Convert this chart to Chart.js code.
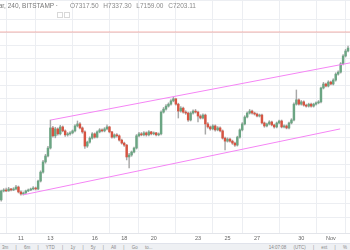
<!DOCTYPE html>
<html>
<head>
<meta charset="utf-8">
<script src="https://cdn.jsdelivr.net/npm/chart.js@4.4.1/dist/chart.umd.min.js"></script>
<style>
  html, body { margin: 0; padding: 0; background: #fff; }
  #wrap { position: relative; width: 350px; height: 250px; overflow: hidden; font-family: "Liberation Sans", Arial, sans-serif; }
  #chart { position: absolute; left: 0; top: 0; }
  #title { position: absolute; right: 292px; top: 2px; font-size: 6.5px; color: #777; white-space: nowrap; }
  #icons { position: absolute; left: 57px; top: 4px; }
  #icons span { display: inline-block; width: 4px; height: 4px; border: 1px solid #d8d8d8; margin-right: 1px; }
  #ohlc { position: absolute; left: 70px; top: 2px; font-size: 6.5px; color: #8a8a8a; white-space: nowrap; word-spacing: 3px; }
  #bar { position: absolute; left: 0; top: 243px; width: 350px; height: 7px; background: #eef0f3; border-top: 1px solid #e0e3eb; font-size: 4.5px; color: #888; line-height: 7px; }
  #bar .l { position: absolute; left: 2px; top: 0; white-space: nowrap; word-spacing: 6px; }
  #bar .r { position: absolute; right: 3px; top: 0; white-space: nowrap; word-spacing: 6px; }
</style>
</head>
<body>
<div id="wrap">
  <canvas id="chart" width="350" height="243"></canvas>
  <div id="title">Bitcoin / U.S. Dollar, 240, BITSTAMP ·</div>
  <div id="icons"><span></span><span></span></div>
  <div id="ohlc">O7317.50 H7337.30 L7159.00 C7203.11</div>
  <div id="bar">
    <div class="l">3m | 6m | YTD | 1y | 5y | All | Go to...</div>
    <div class="r">14:07:08 (UTC) | ext | %</div>
  </div>
</div>
<script>
// 4h candles, index counted from Oct 9 00:00 (6 bars per day)
var firstCandle = 4;

var opens = [
  4660,4795,4810,4795,4825,4810,4825,4855,4780,4750,
  4765,4795,4810,4825,4840,4825,4945,5080,5235,5325,
  5445,5750,5630,5735,5660,5765,5705,5645,5660,5675,
  5705,5780,5810,5750,5690,5475,5535,5595,5660,5610,
  5690,5720,5705,5735,5765,5690,5610,5645,5630,5565,
  5520,5490,5310,5340,5385,5445,5630,5660,5645,5675,
  5645,5690,5660,5675,5645,5660,5990,6035,6080,6110,
  6160,6190,6110,6005,6050,5990,5975,5870,5975,6005,
  5990,5930,5900,5945,5810,5765,5735,5780,5720,5750,
  5705,5595,5550,5580,5550,5520,5490,5610,5720,5810,
  5915,5975,6005,5975,5960,5930,5945,5825,5780,5810,
  5840,5795,5765,5825,5855,5765,5780,5750,5825,5870,
  6110,6175,6110,6145,6095,6080,6110,6080,6110,6130,
  6145,6355,6415,6385,6445,6415,6475,6565,6595,6720,
  6840,6915
];
var highs = [
  4810,4830,4840,4850,4835,4845,4880,4870,4795,4780,
  4810,4825,4840,4860,4855,4960,5100,5260,5350,5470,
  5870,5775,5760,5750,5790,5780,5720,5680,5695,5720,
  5800,5855,5830,5765,5705,5550,5615,5680,5675,5705,
  5740,5735,5755,5795,5775,5700,5660,5665,5645,5580,
  5535,5500,5365,5400,5460,5650,5685,5680,5695,5690,
  5710,5700,5690,5685,5675,6010,6060,6105,6130,6180,
  6215,6200,6125,6075,6065,6010,5990,5995,6025,6030,
  6005,5950,5965,5960,5830,5780,5800,5795,5770,5765,
  5720,5610,5600,5595,5565,5535,5625,5735,5830,5935,
  5995,6030,6020,5990,5975,5960,5960,5840,5825,5860,
  5855,5810,5840,5870,5870,5795,5795,5840,5890,6130,
  6325,6190,6165,6160,6110,6125,6125,6125,6145,6165,
  6370,6440,6430,6465,6460,6495,6585,6615,6740,6860,
  6940,6990
];
var lows = [
  4640,4780,4785,4790,4795,4800,4815,4765,4730,4735,
  4755,4785,4800,4815,4810,4815,4930,5065,5215,5310,
  5430,5610,5600,5640,5645,5690,5620,5625,5640,5660,
  5690,5765,5735,5670,5440,5455,5520,5580,5595,5600,
  5675,5690,5690,5720,5675,5595,5595,5610,5550,5505,
  5470,5265,5145,5320,5370,5430,5615,5630,5630,5625,
  5630,5645,5645,5630,5630,5645,5975,6020,6065,6095,
  6145,6095,5900,5990,5975,5955,5850,5855,5960,5975,
  5840,5885,5885,5655,5745,5715,5720,5700,5705,5690,
  5580,5415,5535,5535,5500,5470,5475,5595,5705,5795,
  5900,5960,5960,5945,5915,5915,5810,5760,5765,5795,
  5780,5745,5750,5810,5750,5750,5735,5735,5810,5855,
  6095,6095,6095,6080,6065,6065,6065,6065,6095,6115,
  6130,6340,6370,6370,6400,6400,6460,6550,6580,6705,
  6825,6900
];
var closes = [
  4795,4810,4795,4825,4810,4825,4855,4780,4750,4765,
  4795,4810,4825,4840,4825,4945,5080,5235,5325,5445,
  5750,5630,5735,5660,5765,5705,5645,5660,5675,5705,
  5780,5810,5750,5690,5475,5535,5595,5660,5610,5690,
  5720,5705,5735,5765,5690,5610,5645,5630,5565,5520,
  5490,5310,5340,5385,5445,5630,5660,5645,5675,5645,
  5690,5660,5675,5645,5660,5990,6035,6080,6110,6160,
  6190,6110,6005,6050,5990,5975,5870,5975,6005,5990,
  5930,5900,5945,5810,5765,5735,5780,5720,5750,5705,
  5595,5550,5580,5550,5520,5490,5610,5720,5810,5915,
  5975,6005,5975,5960,5930,5945,5825,5780,5810,5840,
  5795,5765,5825,5855,5765,5780,5750,5825,5870,6110,
  6175,6110,6145,6095,6080,6110,6080,6110,6130,6145,
  6355,6415,6385,6445,6415,6475,6565,6595,6720,6840,
  6915,6960
];

var tickPositions = [12, 24, 42, 54, 66, 84, 96, 108, 126, 138];
var tickLabels = ['11', '13', '16', '18', '20', '23', '25', '27', '30', 'Nov'];

// channel lines drawn on the chart: [candle index, price]
var upperChannel = [[24.2, 5870], [145.8, 6735]];
var lowerChannel = [[12.8, 4735], [141.8, 5735]];
var lastPrice = 7203.11;

var upColor = '#6ba583';
var downColor = '#d75442';

var bodies = [], wicks = [], colors = [];
for (var i = 0; i < closes.length; i++) {
    bodies.push({x: firstCandle + i, y: [opens[i], closes[i]]});
    wicks.push({x: firstCandle + i, y: [lows[i], highs[i]]});
    colors.push(closes[i] >= opens[i] ? upColor : downColor);
}

function pts(arr) {
    return arr.map(function (p) { return {x: p[0], y: p[1]}; });
}

var ctx = document.getElementById('chart');
new Chart(ctx, {
    type: 'bar',
    data: {
        datasets: [{
            type: 'line',
            data: [{x: 3.5, y: lastPrice}, {x: 145.8, y: lastPrice}],
            borderColor: 'rgba(240,120,110,0.55)',
            borderWidth: 1,
            pointRadius: 0,
            order: 5
        }, {
            data: wicks,
            backgroundColor: '#a8a8a8',
            barThickness: 0.8,
            grouped: false,
            order: 4
        }, {
            data: bodies,
            backgroundColor: colors,
            barThickness: 1.8,
            minBarLength: 1,
            grouped: false,
            order: 3
        }, {
            type: 'line',
            data: pts(upperChannel),
            borderColor: '#f585f5',
            borderWidth: 1,
            pointRadius: 0,
            order: 1
        }, {
            type: 'line',
            data: pts(lowerChannel),
            borderColor: '#f585f5',
            borderWidth: 1,
            pointRadius: 0,
            order: 1
        }]
    },
    options: {
        responsive: false,
        animation: false,
        layout: {padding: 0},
        plugins: {legend: {display: false}, tooltip: {enabled: false}},
        scales: {
            x: {
                type: 'linear',
                min: 3.5,
                max: 145.8,
                offset: false,
                grid: {color: '#eceef2', drawTicks: false},
                border: {color: '#e3e5ea'},
                afterBuildTicks: function (scale) {
                    scale.ticks = tickPositions.map(function (v) { return {value: v}; });
                },
                afterFit: function (scale) { scale.height = 10; },
                ticks: {
                    padding: 2,
                    color: '#666',
                    font: {size: 5.5, family: 'Liberation Sans'},
                    maxRotation: 0,
                    autoSkip: false,
                    callback: function (v) {
                        var idx = tickPositions.indexOf(v);
                        return idx >= 0 ? tickLabels[idx] : '';
                    }
                }
            },
            y: {
                position: 'right',
                min: 4158,
                max: 7688,
                grid: {color: '#eceef2', drawTicks: false},
                border: {display: false},
                ticks: {display: false, stepSize: 200},
                afterFit: function (scale) { scale.width = 0; }
            }
        }
    }
});
</script>
</body>
</html>
